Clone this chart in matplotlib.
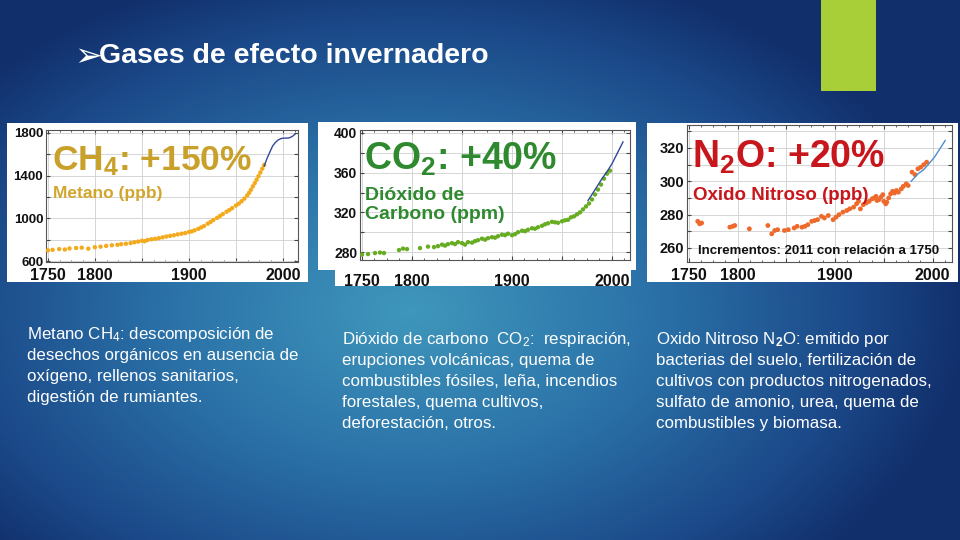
import numpy as np
import matplotlib
matplotlib.use("Agg")
import matplotlib.pyplot as plt
from matplotlib.colors import LinearSegmentedColormap
from matplotlib.patches import Rectangle
from matplotlib.ticker import MultipleLocator

plt.rcParams['font.family'] = ['Liberation Sans', 'DejaVu Sans']
plt.rcParams['mathtext.fontset'] = 'custom'
plt.rcParams['mathtext.rm'] = 'Liberation Sans'
plt.rcParams['mathtext.bf'] = 'Liberation Sans:bold'
plt.rcParams['mathtext.it'] = 'Liberation Sans:italic'
plt.rcParams['mathtext.default'] = 'regular'

# ---------------- data ----------------
ch4_years = [1750, 1755, 1762, 1768, 1773, 1780, 1786, 1793, 1800, 1806, 1812, 1818,
             1824, 1828, 1833, 1838, 1842, 1846, 1850, 1853, 1856, 1860, 1864, 1868,
             1872, 1876, 1880, 1884, 1888, 1892, 1896, 1900, 1903, 1906, 1910, 1913,
             1916, 1920, 1923, 1926, 1930, 1933, 1936, 1940, 1943, 1946, 1950, 1953,
             1956, 1959, 1962, 1964, 1966, 1968, 1970, 1972, 1974, 1976, 1978, 1980]
ch4_values = [700, 705, 712, 708, 718, 722, 725, 716, 730, 735, 742, 748,
              752, 758, 762, 768, 776, 782, 790, 786, 798, 804, 808, 814,
              822, 830, 836, 842, 850, 856, 862, 872, 878, 888, 902, 915,
              928, 950, 966, 985, 1005, 1022, 1040, 1062, 1078, 1096, 1120, 1138,
              1160, 1185, 1215, 1240, 1268, 1300, 1330, 1362, 1395, 1430, 1465, 1500]
ch4_inst_years = [1980, 1983, 1986, 1989, 1992, 1995, 1998, 2001, 2004, 2007, 2010, 2013]
ch4_inst_values = [1490, 1560, 1620, 1678, 1712, 1735, 1748, 1752, 1752, 1755, 1768, 1790]

co2_years = [1750, 1756, 1763, 1768, 1772, 1787, 1791, 1795, 1808, 1816, 1822, 1826,
             1830, 1833, 1836, 1840, 1843, 1846, 1850, 1853, 1856, 1860, 1863, 1866,
             1870, 1873, 1876, 1880, 1883, 1886, 1890, 1893, 1896, 1900, 1903, 1906,
             1910, 1913, 1916, 1920, 1923, 1926, 1930, 1933, 1936, 1940, 1943, 1946,
             1950, 1953, 1956, 1959, 1962, 1965, 1968, 1971, 1974, 1977, 1980, 1983,
             1986, 1989, 1992, 1995, 1998]
co2_values = [277.5, 278, 279, 279.5, 279, 282, 283.5, 283, 284, 285.5, 285, 286,
              287.5, 286.5, 288, 289, 288, 290, 289, 287.5, 290, 289.5, 291, 292,
              293.5, 292.5, 294, 295, 294.5, 296, 297.5, 297, 298.5, 297, 298, 300,
              301.5, 301, 302.5, 304, 303.5, 305, 306.5, 308, 309, 310.5, 310, 309.5,
              311, 312, 312.5, 315, 316, 318, 320, 323, 326, 329, 333, 338,
              343, 348, 354, 359, 362]
co2_inst_years = [1976, 1980, 1985, 1990, 1995, 2000, 2005, 2011]
co2_inst_values = [332, 338, 346, 354, 361, 369, 379, 391]

n2o_years = [1759, 1761, 1763, 1792, 1795, 1797, 1812, 1831, 1835, 1838, 1841, 1848,
             1852, 1858, 1861, 1866, 1869, 1872, 1876, 1879, 1882, 1886, 1889, 1893,
             1898, 1901, 1904, 1908, 1912, 1915, 1919, 1922, 1924, 1926, 1929, 1932,
             1935, 1938, 1940, 1942, 1943, 1945, 1947, 1949, 1950, 1952, 1953, 1955,
             1957, 1959, 1961, 1963, 1965, 1968, 1970, 1973, 1975, 1979, 1982, 1985,
             1988, 1991, 1994]
n2o_values = [276, 274.5, 275, 272.5, 273, 273.5, 271.5, 273.5, 268.5, 270.5, 271, 270.5,
              271, 272, 273, 272.5, 273, 274, 276, 276.5, 277, 279, 278, 279.5,
              277, 278.5, 280, 281.5, 282.5, 283.5, 284.5, 286.5, 288, 283.5, 286, 287,
              288, 289.5, 290, 291, 288.5, 289, 290.5, 292, 288, 286.5, 287.5, 290,
              292.5, 294, 293, 294.5, 293.5, 295.5, 297, 298.5, 297.5, 305.5, 304, 307.5,
              308.5, 310, 311.5]
n2o_inst_years = [1978, 1985, 1991, 1997, 2002, 2007, 2013]
n2o_inst_values = [300, 304.5, 307, 311, 314.5, 319, 324.5]

ch4_yticks = [600, 800, 1000, 1200, 1400, 1600, 1800]
co2_yticks = [280, 300, 320, 340, 360, 380, 400]
n2o_yticks = [260, 270, 280, 290, 300, 310, 320, 330]

title_bullet = "➢"
title = "Gases de efecto invernadero"
ch4_text = ["Metano CH$_4$: descomposición de",
            "desechos orgánicos en ausencia de",
            "oxígeno, rellenos sanitarios,",
            "digestión de rumiantes."]
co2_text = ["Dióxido de carbono  CO$_2$:  respiración,",
            "erupciones volcánicas, quema de",
            "combustibles fósiles, leña, incendios",
            "forestales, quema cultivos,",
            "deforestación, otros."]
n2o_text = ["Oxido Nitroso N$_\\mathbf{2}$O: emitido por",
            "bacterias del suelo, fertilización de",
            "cultivos con productos nitrogenados,",
            "sulfato de amonio, urea, quema de",
            "combustibles y biomasa."]

# ---------------- figure ----------------
W, H = 960, 540
fig = plt.figure(figsize=(9.6, 5.4), dpi=100)

bg = fig.add_axes([0, 0, 1, 1], zorder=-10)
bg.set_xlim(0, W)
bg.set_ylim(H, 0)
bg.axis('off')
yy, xx = np.mgrid[0:H, 0:W]
d = np.sqrt(((xx - 410) / 560.0) ** 2 + ((yy - 310) / 360.0) ** 2)
d = np.clip(d, 0, 1)
cmap = LinearSegmentedColormap.from_list(
    'bgc', [(0, '#3f97bc'), (0.45, '#2a70a7'), (0.8, '#1b4888'), (1, '#112f6b')])
bg.imshow(d, cmap=cmap, extent=(0, W, H, 0), aspect='auto', vmin=0, vmax=1)
bg.add_patch(Rectangle((821, 0), 55, 91, color='#a9cf38', lw=0))
for (x0, y0, x1, y1) in [(7, 123, 308, 282), (318, 122, 636, 270),
                         (335, 268, 631, 286), (647, 123, 958, 282)]:
    bg.add_patch(Rectangle((x0, y0), x1 - x0, y1 - y0, color='white', lw=0))


def ax_rect(l, t, r, b):
    return [l / W, 1 - b / H, (r - l) / W, (b - t) / H]


def style_axes(ax, xlim, ylim, yticks, ylabels_every, ysize, xpad):
    ax.set_xlim(*xlim)
    ax.set_ylim(*ylim)
    ax.set_xticks([1750, 1800, 1850, 1900, 1950, 2000])
    ax.set_xticklabels(['1750', '1800', '', '1900', '', '2000'])
    ax.xaxis.set_minor_locator(MultipleLocator(12.5))
    ax.set_yticks(yticks)
    ax.set_yticklabels([str(v) if i % ylabels_every == 0 else '' for i, v in enumerate(yticks)])
    ax.grid(True, which='major', color='#cfcfcf', lw=0.6)
    ax.set_axisbelow(True)
    ax.tick_params(which='both', direction='in', top=True, right=True, color='#444444')
    ax.tick_params(which='major', length=3, width=0.8)
    ax.tick_params(which='minor', length=1.6, width=0.6)
    ax.tick_params(axis='x', pad=xpad, labelsize=11.5)
    ax.tick_params(axis='y', pad=2, labelsize=ysize)
    for lab in ax.get_xticklabels():
        lab.set_family(['Liberation Sans Narrow', 'Liberation Sans'])
        lab.set_weight('bold')
        lab.set_color('#111111')
    for lab in ax.get_yticklabels():
        lab.set_weight('bold')
        lab.set_color('#111111')
    for s in ax.spines.values():
        s.set_color('#555555')
        s.set_linewidth(0.8)
    ax.set_facecolor('white')


ax1 = fig.add_axes(ax_rect(46, 130, 298, 262))
ax1.scatter(ch4_years, ch4_values, s=10, color='#f3aa1c', edgecolors='none', zorder=3)
ax1.plot(ch4_inst_years, ch4_inst_values, color='#34489a', lw=1.0, zorder=4)
style_axes(ax1, (1748, 2016), (591, 1828), ch4_yticks, 2, 9.5, 4)

ax2 = fig.add_axes(ax_rect(360, 130, 630, 260))
ax2.scatter(co2_years, co2_values, s=10, color='#67ad22', edgecolors='none', zorder=3)
ax2.plot(co2_inst_years, co2_inst_values, color='#34489a', lw=1.0, zorder=4)
style_axes(ax2, (1748, 2018), (272, 403), co2_yticks, 2, 10, 10)

ax3 = fig.add_axes(ax_rect(687, 125, 952, 262))
ax3.scatter(n2o_years, n2o_values, s=12, color='#ee6a2c', edgecolors='none', zorder=3)
ax3.plot(n2o_inst_years, n2o_inst_values, color='#4a8fd0', lw=1.0, zorder=4)
style_axes(ax3, (1748, 2020), (251.6, 333.8), n2o_yticks, 2, 10.5, 4)

# ---------------- overlay text ----------------
ov = fig.add_axes([0, 0, 1, 1], zorder=20)
ov.set_xlim(0, W)
ov.set_ylim(H, 0)
ov.axis('off')
ov.patch.set_alpha(0)

ov.text(74, 57, title_bullet, color='white', fontsize=24, va='center', ha='left',
        family=['DejaVu Sans'])
ov.text(99, 56, title, color='white', fontsize=20.5, fontweight='bold',
        va='center', ha='left')

ov.text(52, 170, "CH$_4$: +150%", color='#c9a12a', fontsize=25.5, fontweight='bold', va='baseline')
ov.text(53, 198, "Metano (ppb)", color='#d2a62c', fontsize=12.5, fontweight='bold', va='baseline')

ov.text(364, 170, "CO$_2$: +40%", color='#2f8a2f', fontsize=27, fontweight='bold', va='baseline')
ov.text(365, 200, "Dióxido de", color='#2f8a2f', fontsize=14, fontweight='bold', va='baseline')
ov.text(365, 219, "Carbono (ppm)", color='#2f8a2f', fontsize=14, fontweight='bold', va='baseline')

ov.text(692, 168, "N$_2$O: +20%", color='#c8161d', fontsize=27, fontweight='bold', va='baseline')
ov.text(693, 200, "Oxido Nitroso (ppb)", color='#c8161d', fontsize=13.5, fontweight='bold',
        va='baseline')
ov.text(698, 254, "Incrementos: 2011 con relación a 1750", color='#111111', fontsize=9.5,
        fontweight='bold', va='baseline')

for i, line in enumerate(ch4_text):
    ov.text(27, 339 + 21 * i, line, color='white', fontsize=12.2, va='baseline')
for i, line in enumerate(co2_text):
    ov.text(342, 344 + 21 * i, line, color='white', fontsize=12.2, va='baseline')
for i, line in enumerate(n2o_text):
    ov.text(656, 344 + 21 * i, line, color='white', fontsize=12.2, va='baseline')

fig.savefig('out.png', dpi=100)
